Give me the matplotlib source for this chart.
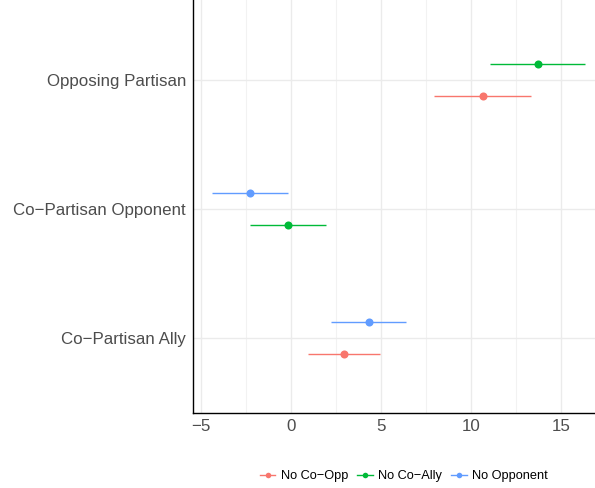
import matplotlib
matplotlib.use("Agg")
import matplotlib.pyplot as plt
from matplotlib.lines import Line2D
import numpy as np

plt.rcParams['font.family'] = ['Liberation Sans', 'DejaVu Sans']

categories = ["Co\u2212Partisan Ally", "Co\u2212Partisan Opponent", "Opposing Partisan"]
series = ["No Co\u2212Opp", "No Co\u2212Ally", "No Opponent"]
colors = {"No Co\u2212Opp": "#F8766D", "No Co\u2212Ally": "#00BA38", "No Opponent": "#619CFF"}

# estimate, lower, upper per (category, series)
est_opp = [2.93, np.nan, 10.65]
lo_opp = [0.94, np.nan, 7.96]
hi_opp = [4.94, np.nan, 13.35]

est_ally = [np.nan, -0.19, 13.7]
lo_ally = [np.nan, -2.30, 11.07]
hi_ally = [np.nan, 1.94, 16.33]

est_none = [4.31, -2.28, np.nan]
lo_none = [2.22, -4.39, np.nan]
hi_none = [6.41, -0.15, np.nan]

data = {
    "No Co\u2212Opp": (est_opp, lo_opp, hi_opp),
    "No Co\u2212Ally": (est_ally, lo_ally, hi_ally),
    "No Opponent": (est_none, lo_none, hi_none),
}
# vertical stacking order within a category (top to bottom)
stack_order = ["No Opponent", "No Co\u2212Ally", "No Co\u2212Opp"]
dodge = 0.124

fig = plt.figure(figsize=(5.95, 4.88), dpi=100)
ax = fig.add_axes([193 / 595, 75 / 488, 1 - 193 / 595, 413 / 488])

for ci, cat in enumerate(categories):
    present = [s for s in stack_order if not np.isnan(data[s][0][ci])]
    n = len(present)
    for k, s in enumerate(present):
        off = ((n - 1) / 2 - k) * 2 * dodge
        y = ci + 1 + off
        est, lo, hi = data[s]
        ax.plot([lo[ci], hi[ci]], [y, y], color=colors[s], lw=1.0, solid_capstyle='butt', zorder=3)
        ax.plot(est[ci], y, 'o', color=colors[s], ms=5.8, mec='none', zorder=4)

ax.set_xlim(-5.44, 16.89)
ax.set_ylim(0.42, 3.62)
ax.set_xticks([-5, 0, 5, 10, 15])
ax.set_xticklabels(["\u22125", "0", "5", "10", "15"])
ax.set_xticks([-2.5, 2.5, 7.5, 12.5], minor=True)
ax.set_yticks([1, 2, 3])
ax.set_yticklabels(categories)

ax.grid(True, which='major', color='#EBEBEB', lw=1.0, zorder=0)
ax.grid(True, which='minor', axis='x', color='#F2F2F2', lw=0.8, zorder=0)
ax.set_axisbelow(True)

for side in ['top', 'right']:
    ax.spines[side].set_visible(False)
for side in ['left', 'bottom']:
    ax.spines[side].set_color('black')
    ax.spines[side].set_linewidth(1.0)

ax.tick_params(axis='both', which='both', length=0, labelcolor='#4D4D4D', labelsize=12.2)
ax.tick_params(axis='x', pad=4)
ax.tick_params(axis='y', pad=5)

handles = [Line2D([0], [0], color=colors[s], lw=1.0, marker='o', ms=4, mec='none') for s in series]
fig.legend(handles, series, loc='center', bbox_to_anchor=(404 / 595, 1 - 476 / 488), ncol=3,
           frameon=False, fontsize=9.2, handlelength=1.2, handletextpad=0.45, columnspacing=0.7)

fig.savefig("out.png", dpi=100, facecolor='white')
